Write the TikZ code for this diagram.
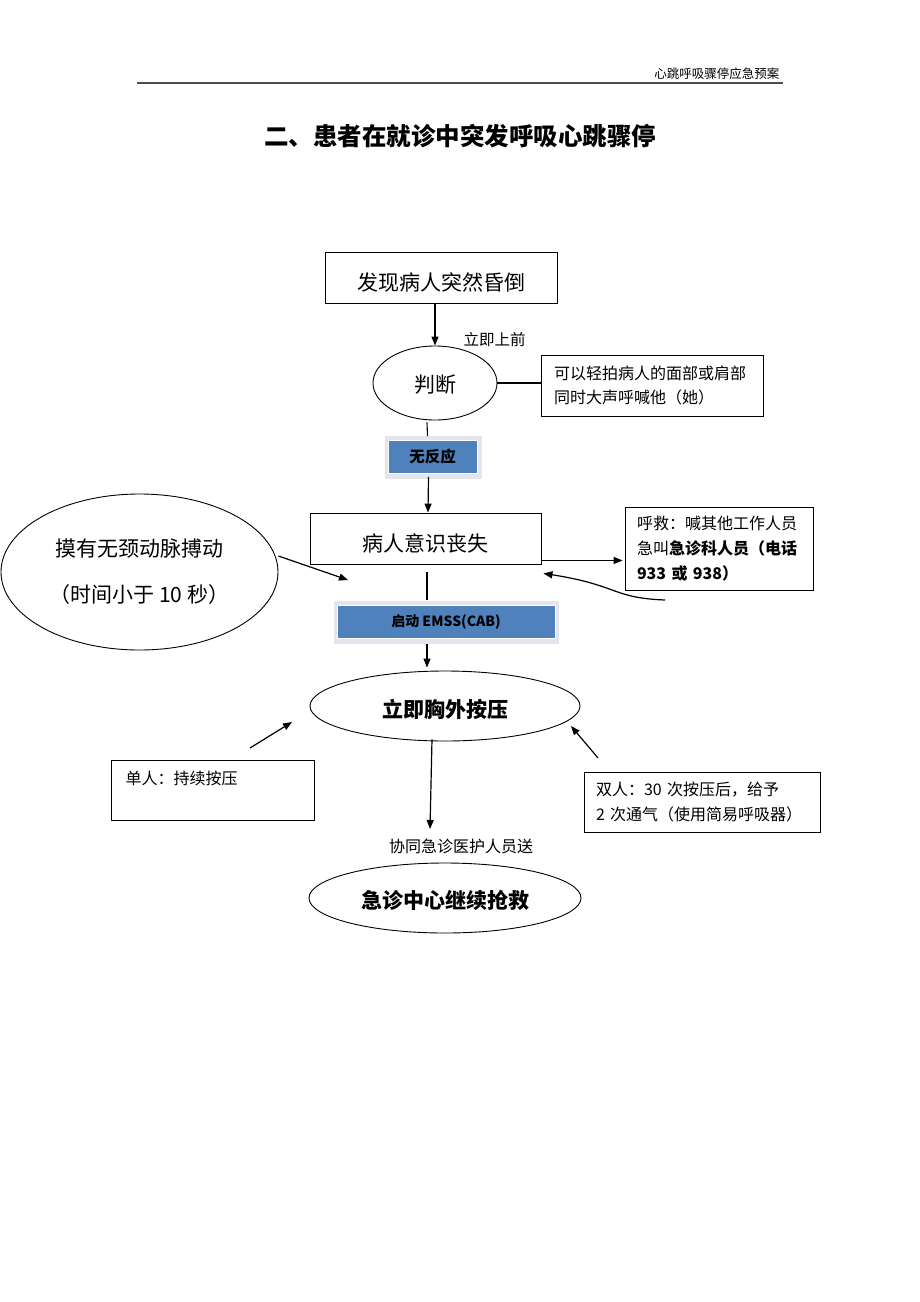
\documentclass[tikz,border=0pt]{standalone}
\usepackage{fontspec}
\setmainfont{Noto Sans CJK SC}
\usetikzlibrary{shapes.geometric,arrows.meta,calc}
\definecolor{bluefill}{RGB}{79,129,189}
\definecolor{halo}{RGB}{228,230,235}
\newcommand{\lowertext}[2]{\raisebox{-#1}[\height][\depth]{#2}}
\tikzset{
  box/.style={draw, line width=0.9pt, inner sep=0pt, fill=white},
  oval/.style={draw, ellipse, line width=0.9pt, inner sep=0pt},
  bluebox/.style={fill=bluefill, draw=white, line width=0.8pt, inner sep=0pt, font=\fontsize{15.5}{18}\selectfont\bfseries},
  conn/.style={line width=1.2pt, -{Triangle[length=9pt,width=7pt]}},
  plain/.style={line width=1.1pt},
  big/.style={font=\fontsize{21}{26}\selectfont},
  bigb/.style={font=\fontsize{21}{26}\selectfont\bfseries},
  small/.style={font=\fontsize{16}{24.5}\selectfont},
}
\begin{document}
\begin{tikzpicture}[x=1pt,y=-1pt]
\useasboundingbox[fill=white] (0,0) rectangle (920,1302);

% header
\node[anchor=east, font=\fontsize{12.5}{14}\selectfont] (hdr) at (783,74) {心跳呼吸骤停应急预案};
\coordinate (hl) at (137,83);
\coordinate (hr) at (783,83);
\draw[line width=1.6pt, gray!60!black] (hl) -- (hr);

% title
\node[font=\fontsize{24.5}{28}\selectfont\bfseries] (title) at (460,136) {二、患者在就诊中突发呼吸心跳骤停};

% main chain
\node[box, big, minimum width=232pt, minimum height=51pt] (find) at (441,277.5) {\lowertext{5pt}{发现病人突然昏倒}};
\node[oval, big, minimum width=124pt, minimum height=74pt] (judge) at (435,383) {\lowertext{2pt}{判断}};
\node[box, small, minimum width=222pt, minimum height=61pt, text width=196pt, align=left] (hint) at (652,385.5) {可以轻拍病人的面部或肩部\\同时大声呼喊他（她）};
\node[small, anchor=west, font=\fontsize{15.5}{18}\selectfont] (go) at (460,340) {立即上前};

% no response box
\fill[halo] (385,436) rectangle (482,479);
\node[bluebox, minimum width=89pt, minimum height=33pt] (noresp) at (432.5,457) {无反应};

\node[box, big, minimum width=231pt, minimum height=51pt] (lost) at (425.5,538.5) {\lowertext{5pt}{病人意识丧失}};

% EMSS box
\fill[halo] (334,601) rectangle (559,644);
\node[bluebox, minimum width=218pt, minimum height=33pt, font=\fontsize{14}{17}\selectfont\bfseries] (emss) at (446,621.5) {启动 EMSS(CAB)};

\node[oval, bigb, minimum width=270pt, minimum height=70pt] (press) at (445,706) {\lowertext{3pt}{立即胸外按压}};
\node[small, font=\fontsize{16}{18}\selectfont] (send) at (461,846) {协同急诊医护人员送};
\node[oval, bigb, minimum width=272pt, minimum height=70pt] (rescue) at (445,898) {\lowertext{2pt}{急诊中心继续抢救}};

% pulse ellipse
\node[oval, minimum width=277pt, minimum height=156pt, align=center, font=\fontsize{21}{46}\selectfont] (pulse) at (139.5,572) {摸有无颈动脉搏动\\（时间小于 10 秒）};

% call box
\node[box, small, minimum width=188pt, minimum height=83pt, text width=164pt, align=left, font=\fontsize{16}{25}\selectfont] (call) at (719,548.5) {呼救：喊其他工作人员\\急叫\textbf{急诊科人员（电话}\\\textbf{933 或 938）}};

% single / double boxes
\node[box, minimum width=203pt, minimum height=60pt] (single) at (212.5,790) {};
\node[small, anchor=west, font=\fontsize{16}{18}\selectfont] (singletxt) at (122,778) {单人：持续按压};
\node[box, small, minimum width=236pt, minimum height=60pt, text width=212pt, align=left] (double) at (702,802) {双人：30 次按压后，给予\\2 次通气（使用简易呼吸器）};

% connectors
\draw[conn] (find.south -| 435,0) -- (judge.north);
\draw[plain] (judge.east) -- (judge.east -| hint.west);
\draw[plain] ($(judge.south)+(-8,2)$) -- ($(noresp.north)+(-5,-4)$);
\draw[conn] ($(noresp.south)+(-4,3)$) -- ($(lost.north)+(2.5,0)$);
\draw[plain] ($(lost.south)+(1.5,8)$) -- ($(emss.north)+(-19,-5)$);
\draw[conn] ($(emss.south)+(-19,6)$) -- ($(press.north)+(-18,-3)$);
\coordinate (lostout) at ($(lost.south east)+(0,-4)$);
\draw[conn] (lostout) -- ($(lostout -| call.west)+(-2,0)$);
\coordinate (cstart) at (665,600);
\draw[conn] (cstart) .. controls (612,598) and (618,585) .. ($(lost.south east)+(2,9)$);
\coordinate (pulseend) at (348,580);
\draw[conn] ($(pulse.east)+(0,-16)$) -- (pulseend);
\coordinate (sstart) at (250,748);
\coordinate (send1) at (292,722);
\draw[conn] (sstart) -- (send1);
\coordinate (dstart) at (598,758);
\coordinate (dend) at (571,726);
\draw[conn] (dstart) -- (dend);
\coordinate (downend) at (430,829);
\draw[conn] ($(press.south)+(-13,-2)$) -- (downend);
\end{tikzpicture}
\end{document}
